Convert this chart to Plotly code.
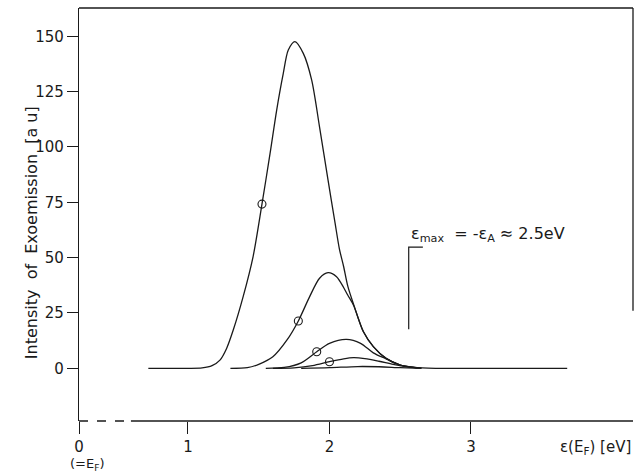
import plotly.graph_objects as go

# curves (x in eV, y in a.u.)
x_c1 = [0.72, 1.0, 1.10, 1.17, 1.226, 1.273, 1.32, 1.39, 1.46, 1.523, 1.58, 1.627, 1.673,
        1.709, 1.756, 1.815, 1.874, 1.93, 1.99, 2.04, 2.07, 2.10, 2.13, 2.17, 2.24, 2.31,
        2.40, 2.50, 2.60, 2.75, 3.0, 3.68]
y_c1 = [0, 0, 0.2, 1.2, 3.7, 9.0, 17.3, 32.4, 50.4, 74.2, 97, 116.7, 133,
        143.8, 147.6, 142.3, 130.3, 109, 85, 65.5, 54, 46, 37, 29, 16.5, 9.8,
        4.5, 1.5, 0.4, 0, 0, 0]

x_c2 = [1.30, 1.42, 1.50, 1.60, 1.70, 1.78, 1.86, 1.93, 1.99, 2.05, 2.10, 2.13, 2.17,
        2.24, 2.31, 2.40, 2.50, 2.62]
y_c2 = [0, 0.3, 1.8, 5.2, 12.8, 21.4, 32.4, 40.7, 43.2, 41.4, 36.5, 33, 28.5,
        16.5, 9.8, 4.5, 1.5, 0.2]

x_c3 = [1.55, 1.68, 1.80, 1.91, 2.00, 2.12, 2.22, 2.31, 2.40, 2.50, 2.63]
y_c3 = [0, 0.4, 2.5, 7.5, 11.3, 13.1, 11.3, 7.0, 4.3, 1.5, 0.2]

x_c4 = [1.60, 1.75, 1.88, 2.00, 2.10, 2.17, 2.25, 2.35, 2.45, 2.55, 2.65]
y_c4 = [0, 0.2, 1.2, 3.0, 4.3, 4.8, 4.4, 3.2, 1.8, 0.7, 0.1]

x_c5 = [1.80, 2.00, 2.20, 2.35, 2.50, 2.65]
y_c5 = [0, 0.3, 0.8, 0.7, 0.3, 0]

# open circles on the rising flanks
x_marks = [1.523, 1.78, 1.91, 2.00]
y_marks = [74.2, 21.4, 7.5, 3.0]

y_ticks = [0, 25, 50, 75, 100, 125, 150]
x_ticks = [0.23, 1, 2, 3]
x_ticktext = ["0", "1", "2", "3"]

x_lo, x_hi = 0.23, 4.145
y_lo, y_hi = -23.8, 162.8
ink = "#1a1a1a"
font = "DejaVu Sans"

fig = go.Figure()
for xs, ys in [(x_c1, y_c1), (x_c2, y_c2), (x_c3, y_c3), (x_c4, y_c4), (x_c5, y_c5)]:
    fig.add_trace(go.Scatter(x=xs, y=ys, mode="lines",
                             line=dict(color=ink, width=1.3, shape="spline", smoothing=0.8),
                             hoverinfo="skip"))
fig.add_trace(go.Scatter(x=x_marks, y=y_marks, mode="markers",
                         marker=dict(symbol="circle-open", size=8, color=ink,
                                     line=dict(width=1.1, color=ink)),
                         hoverinfo="skip"))

# bracket marking eps_max
fig.add_trace(go.Scatter(x=[2.56, 2.56, 2.66], y=[17.6, 54.8, 54.8], mode="lines",
                         line=dict(color=ink, width=1.2), hoverinfo="skip"))

shapes = [
    # broken x axis: dashed near 0, solid from there on
    dict(type="line", xref="x", yref="paper", x0=x_lo, x1=0.597, y0=0, y1=0,
         line=dict(color=ink, width=1.3, dash="dash")),
    dict(type="line", xref="x", yref="paper", x0=0.597, x1=x_hi, y0=0, y1=0,
         line=dict(color=ink, width=1.3)),
    # top and right border
    dict(type="line", xref="paper", yref="paper", x0=0, x1=1, y0=1, y1=1,
         line=dict(color=ink, width=1.3)),
    dict(type="line", xref="paper", yref="y", x0=1, x1=1, y0=y_hi, y1=26,
         line=dict(color=ink, width=1.3)),
]

annotations = [
    dict(text="Intensity  of  Exoemission  [a u]", xref="paper", yref="paper",
         x=-59 / 554, y=0.456, textangle=-90, showarrow=False,
         font=dict(family=font, size=16, color=ink)),
    dict(text="ε(E<sub>F</sub>) [eV]", xref="paper", yref="paper", x=1.0, y=-0.063,
         xanchor="right", yanchor="middle", showarrow=False,
         font=dict(family=font, size=15, color=ink)),
    dict(text="(=E<sub>F</sub>)", xref="x", yref="paper", x=0.29, y=-0.105,
         xanchor="center", yanchor="middle", showarrow=False,
         font=dict(family=font, size=13, color=ink)),
    dict(text="ε<sub>max</sub>  = -ε<sub>A</sub> ≈ 2.5eV", xref="x", yref="y",
         x=2.565, y=60.6, xanchor="left", yanchor="middle", showarrow=False,
         font=dict(family=font, size=16, color=ink)),
]

fig.update_layout(
    width=635, height=475,
    margin=dict(l=79, r=2, t=8, b=54),
    paper_bgcolor="white", plot_bgcolor="white",
    showlegend=False,
    shapes=shapes, annotations=annotations,
    xaxis=dict(range=[x_lo, x_hi], tickvals=x_ticks, ticktext=x_ticktext,
               ticks="outside", ticklen=12, tickwidth=1.3, tickcolor=ink,
               showline=False, showgrid=False, zeroline=False,
               tickfont=dict(family=font, size=15, color=ink)),
    yaxis=dict(range=[y_lo, y_hi], tickvals=y_ticks,
               ticks="outside", ticklen=11, tickwidth=1.3, tickcolor=ink,
               showline=True, linecolor=ink, linewidth=1.3,
               showgrid=False, zeroline=False,
               tickfont=dict(family=font, size=15, color=ink)),
)

# drop the page's default body margin so the 635x475 figure fills the window
fig.write_html("out.html", config={"displayModeBar": False},
               post_script="document.body.style.margin='0';")
